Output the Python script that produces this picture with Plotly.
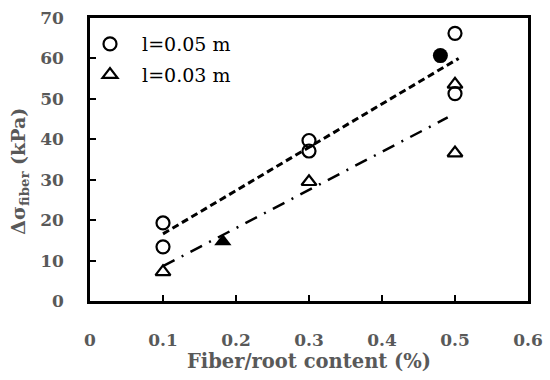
import plotly.graph_objects as go

# Data
x_l05 = [0.1, 0.1, 0.3, 0.3, 0.5, 0.5]
y_l05 = [19.3, 13.4, 39.7, 37.1, 66.2, 51.3]
x_l03 = [0.1, 0.3, 0.5, 0.5]
y_l03 = [7.2, 29.5, 53.6, 36.6]
x_filled_circle = [0.48]
y_filled_circle = [60.7]
x_filled_tri = [0.182]
y_filled_tri = [14.7]
trend_x05 = [0.1, 0.505]
trend_y05 = [16.6, 60.0]
trend_x03 = [0.1, 0.49]
trend_y03 = [8.6, 45.4]

x_ticks = [0, 0.1, 0.2, 0.3, 0.4, 0.5, 0.6]
x_labels = ["0", "0.1", "0.2", "0.3", "0.4", "0.5", "0.6"]
y_ticks = [0, 10, 20, 30, 40, 50, 60, 70]
series_names = ["\u00a0\u00a0l=0.05 m", "\u00a0\u00a0l=0.03 m"]

FONT = "DejaVu Serif"
GRAY = "#595959"
TICKFONT = dict(family=FONT, size=17, color=GRAY, weight="bold")

fig = go.Figure()
fig.add_trace(go.Scatter(x=trend_x05, y=trend_y05, mode="lines",
                         line=dict(color="black", width=3, dash="7px,4px"), showlegend=False))
fig.add_trace(go.Scatter(x=trend_x03, y=trend_y03, mode="lines",
                         line=dict(color="black", width=2.5, dash="13px,8px,2px,8px"), showlegend=False))
fig.add_trace(go.Scatter(x=x_l05, y=y_l05, mode="markers", name=series_names[0], legendgroup="a",
                         marker=dict(symbol="circle-open", size=13, color="black", line=dict(width=2.2))))
fig.add_trace(go.Scatter(x=x_l03, y=y_l03, mode="markers", name=series_names[1], legendgroup="b",
                         marker=dict(symbol="triangle-up-open", size=13, color="black", line=dict(width=2.2))))
fig.add_trace(go.Scatter(x=x_filled_circle, y=y_filled_circle, mode="markers", showlegend=False,
                         marker=dict(symbol="circle", size=15, color="black")))
fig.add_trace(go.Scatter(x=x_filled_tri, y=y_filled_tri, mode="markers", showlegend=False,
                         marker=dict(symbol="triangle-up", size=15, color="black")))

axis_common = dict(showline=True, linecolor="black", linewidth=2.5, mirror=True,
                   ticks="inside", ticklen=6, tickwidth=1.5, tickcolor="black",
                   showgrid=False, zeroline=False, automargin=False,
                   tickfont=TICKFONT)

fig.update_xaxes(range=[0, 0.6], tickvals=x_ticks, ticktext=x_labels,
                 ticklabelstandoff=22,
                 title=dict(text="<b>Fiber/root content (%)</b>",
                            font=dict(family=FONT, size=19.5, color=GRAY), standoff=0),
                 **axis_common)
fig.update_yaxes(range=[0, 70], tickvals=y_ticks, ticklabelstandoff=20, **axis_common)

fig.add_annotation(text="<b>Δσ<sub>fiber</sub> (kPa)</b>", textangle=-90,
                   xref="paper", yref="paper", x=-0.16, y=0.46, xanchor="center", yanchor="middle",
                   showarrow=False, font=dict(family=FONT, size=19, color=GRAY))

fig.update_layout(
    width=550, height=380,
    margin=dict(l=90, r=22, t=18, b=79),
    plot_bgcolor="white", paper_bgcolor="white",
    font=dict(family=FONT, size=17, color=GRAY),
    legend=dict(x=0.0, y=0.975, xanchor="left", yanchor="top", bgcolor="rgba(0,0,0,0)",
                font=dict(family=FONT, size=19, color="black"), itemwidth=30,
                tracegroupgap=3),
)

fig.write_html("out.html", config={"displayModeBar": False},
               post_script="document.body.style.margin='0px';document.body.style.overflow='hidden';")
